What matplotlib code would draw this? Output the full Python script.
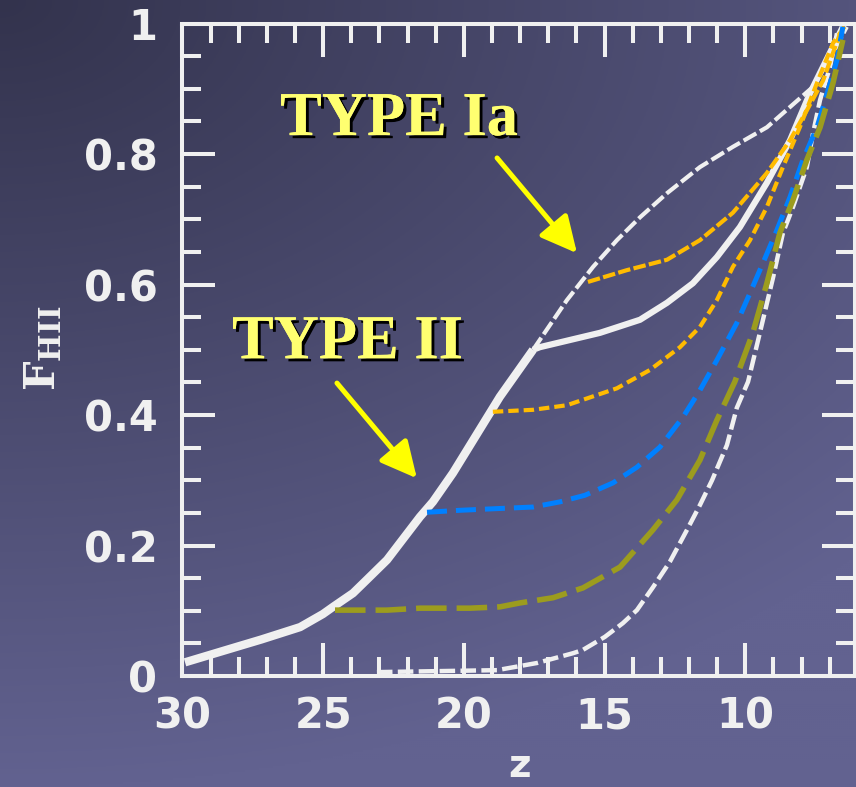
import matplotlib
matplotlib.use('Agg')
import matplotlib.pyplot as plt
import numpy as np
from matplotlib import patheffects
from matplotlib.ticker import MultipleLocator, FixedLocator, FixedFormatter

# curves: redshift z and ionized fraction F_HII
z_main = [29.91, 28.21, 27.20, 25.82, 25.01, 24.65, 23.94, 23.44, 22.73, 22.27, 21.56,
          21.10, 20.39, 19.89, 18.72, 17.54]
f_main = [0.021, 0.043, 0.056, 0.075, 0.095, 0.106, 0.127, 0.148, 0.178, 0.204, 0.244,
          0.267, 0.311, 0.346, 0.428, 0.500]

z_upper = [17.54, 16.34, 15.41, 14.56, 13.74, 12.78, 11.61, 10.44, 9.23, 8.41,
           7.59, 6.88, 6.39]
f_upper = [0.500, 0.576, 0.627, 0.668, 0.703, 0.740, 0.780, 0.811, 0.841, 0.872,
           0.903, 0.955, 0.995]

z_white_branch = [17.54, 17.30, 15.16, 13.74, 12.78, 11.86, 11.01, 10.19, 9.23, 8.41,
                  7.70, 6.99, 6.53]
f_white_branch = [0.500, 0.504, 0.526, 0.546, 0.572, 0.602, 0.642, 0.688, 0.756, 0.821,
                  0.893, 0.955, 0.995]

z_orange_top = [15.59, 14.21, 12.78, 11.61, 10.44, 9.23, 8.41, 7.81, 7.23, 6.63]
f_orange_top = [0.604, 0.622, 0.638, 0.668, 0.710, 0.771, 0.821, 0.867, 0.913, 0.985]

z_orange_low = [18.97, 17.54, 16.34, 14.56, 13.39, 12.32, 11.61, 11.01, 10.44, 9.83,
                9.23, 8.66, 8.06, 7.45, 6.88, 6.39]
f_orange_low = [0.405, 0.408, 0.415, 0.441, 0.469, 0.504, 0.535, 0.576, 0.627, 0.668,
                0.719, 0.780, 0.841, 0.909, 0.970, 1.000]

z_blue = [21.31, 20.14, 18.61, 17.54, 16.58, 15.70, 14.70, 13.85, 13.03, 12.21,
          11.61, 11.01, 10.30, 9.83, 9.37, 8.87, 8.41, 7.95, 7.45, 7.09, 6.74, 6.53]
f_blue = [0.251, 0.254, 0.257, 0.259, 0.267, 0.277, 0.296, 0.320, 0.351, 0.397,
          0.438, 0.484, 0.541, 0.587, 0.633, 0.684, 0.734, 0.791, 0.841, 0.893, 0.944, 0.995]

z_olive = [24.58, 22.73, 21.56, 19.78, 18.72, 18.01, 16.83, 16.34, 15.77, 14.45,
           13.28, 12.43, 11.61, 11.01, 10.37, 9.73, 9.23, 8.77, 8.30, 7.81, 7.34, 6.88, 6.53]
f_olive = [0.101, 0.101, 0.104, 0.104, 0.106, 0.112, 0.120, 0.127, 0.135, 0.167,
           0.224, 0.270, 0.331, 0.392, 0.451, 0.526, 0.602, 0.679, 0.730, 0.791, 0.841, 0.909, 0.975]

z_bottom = [23.09, 18.82, 17.40, 16.12, 15.77, 14.99, 14.35, 13.85, 13.28, 12.68,
            12.07, 11.61, 11.18, 10.65, 10.30, 9.90, 9.48, 9.01, 8.66, 8.30, 7.81,
            7.59, 7.34, 6.99, 6.74]
f_bottom = [0.006, 0.009, 0.020, 0.035, 0.040, 0.060, 0.081, 0.101, 0.136, 0.175,
            0.224, 0.262, 0.300, 0.354, 0.411, 0.451, 0.526, 0.611, 0.679, 0.719, 0.780,
            0.832, 0.883, 0.933, 0.985]

x_ticks = [30, 25, 20, 15, 10]
y_ticks = [0, 0.2, 0.4, 0.6, 0.8, 1.0]
y_tick_labels = ['0', '0.2', '0.4', '0.6', '0.8', '1']

WHITE = '#f0f0f0'
ORANGE = '#ffbb00'
BLUE = '#0080ff'
OLIVE = '#9c9c1e'
YELLOW = '#ffff00'

plt.rcParams['font.weight'] = 'bold'
plt.rcParams['mathtext.fontset'] = 'dejavuserif'

fig = plt.figure(figsize=(8.56, 7.87), dpi=100)

# background gradient
bg = fig.add_axes([0, 0, 1, 1])
bg.axis('off')
u = np.linspace(0, 1, 428)
v = np.linspace(0, 1, 394)
U, V = np.meshgrid(u, v)
t = np.clip(np.sqrt(0.5 * U ** 2 + V ** 2), 0, 1)
c0 = np.array([0x33, 0x33, 0x4d]) / 255
c1 = np.array([0x62, 0x62, 0x90]) / 255
bg.imshow(c0 + t[..., None] * (c1 - c0), aspect='auto', extent=[0, 1, 0, 1], origin='upper')

ax = fig.add_axes([0.2132, 0.1410, 0.7856, 0.8291])
ax.set_facecolor('none')

ax.plot(z_main, f_main, color=WHITE, lw=6.0, solid_capstyle='butt', solid_joinstyle='round')
ax.plot(z_upper, f_upper, color=WHITE, lw=3.0, dashes=(3.5, 1), dash_capstyle='butt')
ax.plot(z_white_branch, f_white_branch, color=WHITE, lw=4.5, solid_capstyle='butt')
ax.plot(z_bottom, f_bottom, color=WHITE, lw=3.2, dashes=(3.5, 1.2), dash_capstyle='butt')
ax.plot(z_orange_top, f_orange_top, color=ORANGE, lw=3.0, dashes=(3, 0.8), dash_capstyle='butt')
ax.plot(z_orange_low, f_orange_low, color=ORANGE, lw=3.0, dashes=(2.5, 1.2), dash_capstyle='butt')
ax.plot(z_blue, f_blue, color=BLUE, lw=3.6, dashes=(4, 1.8), dash_capstyle='butt')
ax.plot(z_olive, f_olive, color=OLIVE, lw=4.0, dashes=(5.5, 1.8), dash_capstyle='butt')

ax.set_xlim(30, 6.1)
ax.set_ylim(0, 1)

for s in ax.spines.values():
    s.set_color(WHITE)
    s.set_linewidth(2.9)

ax.xaxis.set_major_locator(FixedLocator(x_ticks))
ax.xaxis.set_minor_locator(MultipleLocator(1))
ax.yaxis.set_major_locator(FixedLocator(y_ticks))
ax.yaxis.set_major_formatter(FixedFormatter(y_tick_labels))
ax.yaxis.set_minor_locator(MultipleLocator(0.05))
ax.tick_params(which='both', direction='in', top=True, right=True, color=WHITE,
               labelcolor=WHITE, width=2.9, labelsize=30)
ax.tick_params(which='major', length=24)
ax.tick_params(which='minor', length=14)
ax.tick_params(axis='x', pad=14)
ax.tick_params(axis='y', pad=18)

fig.text(43 / 856, 1 - 348 / 787, r'$\mathbf{F}_{\mathbf{HII}}$', rotation=90,
         ha='center', va='center', color=WHITE, fontsize=30)
fig.text(520 / 856, 2 / 787, 'z', ha='center', va='bottom', color=WHITE,
         fontsize=28, fontweight='bold')

shadow = [patheffects.withSimplePatchShadow(offset=(2.2, -2.2), shadow_rgbFace='black', alpha=1.0),
          patheffects.Normal()]
for label, xy_text, tip, tail in [('TYPE Ia', (26.53, 0.829), (15.98, 0.648), (18.82, 0.794)),
                                  ('TYPE II', (28.24, 0.487), (21.67, 0.303), (24.51, 0.449))]:
    ax.text(xy_text[0], xy_text[1], label, family='Liberation Serif', fontsize=45,
            fontweight='bold', color='#ffff70', ha='left', va='baseline',
            path_effects=shadow, zorder=5)
    ax.annotate('', xy=tip, xytext=tail,
                arrowprops=dict(arrowstyle='-|>,head_length=1.1,head_width=0.55',
                                color=YELLOW, lw=3.6, mutation_scale=20,
                                shrinkA=0, shrinkB=0), zorder=5)

fig.savefig('out.png', dpi=100)
plt.close()
